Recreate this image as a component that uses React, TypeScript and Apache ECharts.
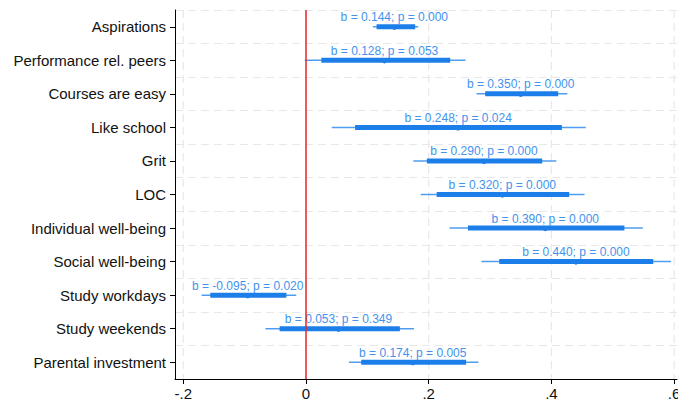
import React, { useEffect, useRef } from "react";
import * as echarts from "echarts";

const categories = [
  "Aspirations",
  "Performance rel. peers",
  "Courses are easy",
  "Like school",
  "Grit",
  "LOC",
  "Individual well-being",
  "Social well-being",
  "Study workdays",
  "Study weekends",
  "Parental investment",
];
const coef = [0.144, 0.128, 0.35, 0.248, 0.29, 0.32, 0.39, 0.44, -0.095, 0.053, 0.174];
const pValues = ["0.000", "0.053", "0.000", "0.024", "0.000", "0.000", "0.000", "0.000", "0.020", "0.349", "0.005"];
const ci95Low = [0.109, -0.002, 0.278, 0.042, 0.175, 0.187, 0.234, 0.286, -0.17, -0.066, 0.07];
const ci95High = [0.183, 0.26, 0.426, 0.456, 0.408, 0.454, 0.549, 0.595, -0.016, 0.176, 0.281];
const ci90Low = [0.115, 0.025, 0.292, 0.08, 0.197, 0.213, 0.264, 0.315, -0.156, -0.043, 0.09];
const ci90High = [0.178, 0.235, 0.411, 0.417, 0.385, 0.429, 0.519, 0.566, -0.032, 0.153, 0.261];
const xTicks = [-0.2, 0, 0.2, 0.4, 0.6];

const FONT = "'Liberation Sans', Arial, Helvetica, sans-serif";

export default function App() {
  const ref = useRef<HTMLDivElement>(null);
  useEffect(() => {
    if (!ref.current) return;
    const chart = echarts.init(ref.current, null, { renderer: "svg" });
    const data = categories.map((_, i) => [coef[i], i, ci95Low[i], ci95High[i], ci90Low[i], ci90High[i]]);
    const thick = "#1c7fe9";
    const thin = "#4f9df0";
    const textColor = "#4293ee";
    const gridColor = "#e8e8e8";
    chart.setOption({
      animation: false,
      grid: { left: 175, right: 1, top: 10, bottom: 26, containLabel: false, outerBoundsMode: "none" },
      xAxis: {
        type: "value",
        min: -0.2135,
        max: 0.6047,
        axisLine: { show: true, onZero: false, lineStyle: { color: "#000", width: 1 } },
        axisTick: { show: true, length: 5, customValues: xTicks, lineStyle: { color: "#000" } },
        axisLabel: {
          customValues: xTicks,
          fontSize: 15,
          fontFamily: FONT,
          color: "#111",
          margin: 7,
          formatter: (v: number) => {
            if (Math.abs(v) < 1e-9) return "0";
            const s = Math.abs(v).toFixed(1).replace(/^0/, "");
            return (v < 0 ? "-" : "") + s;
          },
        },
        splitLine: { show: false },
      },
      yAxis: {
        type: "category",
        data: categories,
        inverse: true,
        axisLine: { show: true, onZero: false, lineStyle: { color: "#000", width: 1 } },
        axisTick: { show: true, alignWithLabel: true, length: 5, lineStyle: { color: "#000" } },
        axisLabel: { fontSize: 15, fontFamily: FONT, color: "#111", margin: 9 },
        splitLine: {
          show: true,
          interval: 0,
          lineStyle: { color: gridColor, width: 1.2, type: [8, 5] },
        },
      },
      series: [
        {
          type: "custom",
          z: 1,
          silent: true,
          data: xTicks.map((v) => [v]),
          encode: { x: 0 },
          renderItem: (params: any, api: any) => {
            const cs = params.coordSys;
            const x = api.coord([api.value(0), 0])[0];
            return {
              type: "line",
              shape: { x1: x, y1: cs.y, x2: x, y2: cs.y + cs.height },
              style: { stroke: gridColor, lineWidth: 1.2, lineDash: [8, 5] },
            };
          },
        },
        {
          type: "custom",
          z: 3,
          data,
          encode: { x: [0, 2, 3, 4, 5], y: 1 },
          renderItem: (params: any, api: any) => {
            const yi = api.value(1);
            const b = api.value(0);
            const a0 = api.coord([api.value(2), yi]);
            const a1 = api.coord([api.value(3), yi]);
            const t0 = api.coord([api.value(4), yi]);
            const t1 = api.coord([api.value(5), yi]);
            const c = api.coord([b, yi]);
            const label = `b = ${b.toFixed(3)}; p = ${pValues[params.dataIndex]}`;
            return {
              type: "group",
              children: [
                {
                  type: "line",
                  shape: { x1: a0[0], y1: a0[1], x2: a1[0], y2: a1[1] },
                  style: { stroke: thin, lineWidth: 1.5 },
                },
                {
                  type: "rect",
                  shape: { x: t0[0], y: c[1] - 2.5, width: t1[0] - t0[0], height: 5 },
                  style: { fill: thick },
                },
                {
                  type: "circle",
                  shape: { cx: c[0], cy: c[1] + 0.5, r: 2.6 },
                  style: { fill: thick },
                },
                {
                  type: "text",
                  x: c[0],
                  y: c[1] - 9.5,
                  style: {
                    text: label,
                    fill: textColor,
                    fontSize: 12,
                    fontFamily: FONT,
                    align: "center",
                    verticalAlign: "middle",
                  },
                },
              ],
            };
          },
        },
        {
          type: "line",
          data: [],
          silent: true,
          z: 5,
          markLine: {
            silent: true,
            symbol: ["none", "none"],
            label: { show: false },
            lineStyle: { color: "#e8262a", width: 1.5, type: "solid" },
            data: [{ xAxis: 0 }],
          },
        },
      ],
    });
    return () => chart.dispose();
  }, []);
  return (
    <div
      ref={ref}
      style={{ position: "fixed", left: 0, top: 0, width: 678, height: 405, background: "#fff" }}
    />
  );
}
